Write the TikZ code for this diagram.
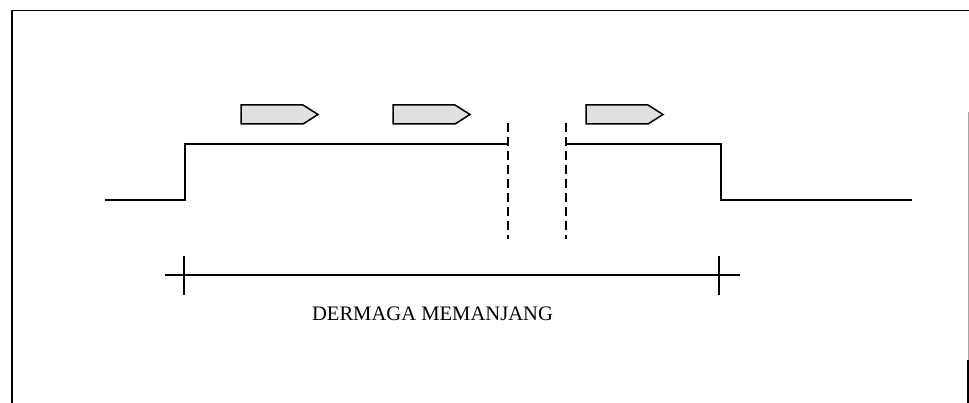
\documentclass[tikz,border=0pt]{standalone}
\usepackage{fontspec}
\setmainfont{Liberation Serif}
\begin{document}
\begin{tikzpicture}[x=1pt,y=-1pt,
  profile/.style={line width=1.6pt,line join=miter},
  frame/.style={line width=1.5pt},
  gapline/.style={line width=1.5pt,dash pattern=on 9pt off 5pt},
  dimline/.style={line width=1.4pt},
  ship/.pic={\draw[line width=1.5pt,fill=gray!24,line join=miter]
      (0,-9.5) -- (62,-9.5) -- (77,0) -- (62,9.5) -- (0,9.5) -- cycle;},
  caption/.style={font=\fontsize{20.6}{22}\selectfont,inner sep=0pt}]
\useasboundingbox (0,0) rectangle (969,403);

% outer frame (bottom edge lies outside the page)
\draw[frame] (12,403) -- (12,10.5) -- (969,10.5);
\draw[line width=1pt,gray!70] (968,112) -- (968,360);
\draw[line width=1.5pt] (968,360) -- (968,403);

% quay profile, interrupted by the break in the middle
\coordinate (a0) at (105,200);
\coordinate (a1) at (185,200);
\coordinate (a2) at (185,144);
\coordinate (a3) at (508,144);
\coordinate (b0) at (566,144);
\coordinate (b1) at (721,144);
\coordinate (b2) at (721,200);
\coordinate (b3) at (912,200);
\draw[profile] (a0) -- (a1) -- (a2) -- (a3);
\draw[profile] (b0) -- (b1) -- (b2) -- (b3);

% break lines
\coordinate (g1t) at (508,123);
\coordinate (g1b) at (508,239);
\coordinate (g2t) at (566,123);
\coordinate (g2b) at (566,239);
\draw[gapline] (g1t) -- (g1b);
\draw[gapline] (g2t) -- (g2b);

% ships moving along the quay
\pic at (241,114.5) {ship};
\pic at (393,114.5) {ship};
\pic at (586,114.5) {ship};

% length dimension
\coordinate (d0) at (165,275);
\coordinate (d1) at (740,275);
\coordinate (t0a) at (184,256);
\coordinate (t0b) at (184,295);
\coordinate (t1a) at (719,256);
\coordinate (t1b) at (719,295);
\draw[dimline] (d0) -- (d1);
\draw[dimline] (t0a) -- (t0b);
\draw[dimline] (t1a) -- (t1b);
\node[caption] (lbl) at (432.5,314) {DERMAGA MEMANJANG};
\end{tikzpicture}
\end{document}
